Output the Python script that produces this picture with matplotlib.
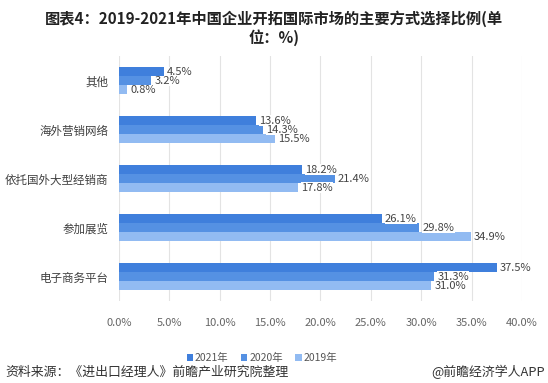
import matplotlib.pyplot as plt
import numpy as np

plt.rcParams['font.family'] = ['Noto Sans CJK SC', 'DejaVu Sans']

categories = ["其他", "海外营销网络", "依托国外大型经销商", "参加展览", "电子商务平台"]
years = ["2021年", "2020年", "2019年"]
values_2021 = [4.5, 13.6, 18.2, 26.1, 37.5]
values_2020 = [3.2, 14.3, 21.4, 29.8, 31.3]
values_2019 = [0.8, 15.5, 17.8, 34.9, 31.0]
xticks = [0, 5, 10, 15, 20, 25, 30, 35, 40]

colors = ["#3f7fdc", "#5591e3", "#92bbf2"]

fig = plt.figure(figsize=(5.48, 3.83), dpi=100)
ax = fig.add_axes([0.217, 0.214, 0.7356, 0.6385])

y = np.arange(len(categories))
h = 0.184
for i, (vals, name) in enumerate(zip([values_2021, values_2020, values_2019], years)):
    pos = y + (i - 1) * h
    ax.barh(pos, vals, height=h, color=colors[i], label=name, zorder=2)
    for p, v in zip(pos, vals):
        ax.text(v + 0.3, p, f"{v:.1f}%", va="center", ha="left", fontsize=8,
                color="#444444", zorder=3,
                bbox=dict(facecolor="white", edgecolor="none", pad=0.3))

ax.set_ylim(len(categories) - 0.5, -0.5)
ax.set_yticks(y)
ax.set_yticklabels(categories, fontsize=8.3, color="#404040")
ax.set_xlim(0, 40)
ax.set_xticks(xticks)
ax.set_xticklabels([f"{t:.1f}%" for t in xticks], fontsize=8, color="#666666")
ax.tick_params(length=0)
ax.tick_params(axis="y", pad=7.5)
ax.tick_params(axis="x", pad=12)
ax.grid(axis="x", color="#e3e3e3", linewidth=0.8, zorder=0)
for s in ax.spines.values():
    s.set_visible(False)

fig.text(0.5, 1 - 19 / 383, "图表4：2019-2021年中国企业开拓国际市场的主要方式选择比例(单", ha="center",
         va="center", fontsize=11, fontweight="bold", color="#222222")
fig.text(0.5, 1 - 38 / 383, "位：%)", ha="center", va="center", fontsize=11,
         fontweight="bold", color="#222222")

handles, labels = ax.get_legend_handles_labels()
fig.legend(handles, labels, loc="center", bbox_to_anchor=(262 / 548, 1 - 358 / 383),
           ncol=3, frameon=False, fontsize=7.5, handlelength=0.6, handleheight=0.6,
           handletextpad=0.2, columnspacing=1.2, labelcolor="#555555")

fig.text(0.01, 1 - 372 / 383, "资料来源：《进出口经理人》前瞻产业研究院整理", ha="left",
         va="center", fontsize=9.3, color="#333333")
fig.text(0.995, 1 - 372 / 383, "@前瞻经济学人APP", ha="right", va="center",
         fontsize=9.3, color="#333333")

fig.savefig("out.png", dpi=100)
